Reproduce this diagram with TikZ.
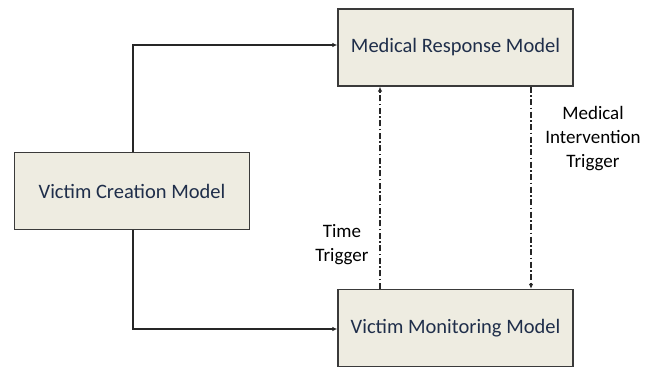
\documentclass[tikz,border=0pt]{standalone}
\usepackage{fontspec}
\setmainfont{Carlito}
\usetikzlibrary{arrows.meta}
\definecolor{boxfill}{HTML}{EEECE1}
\definecolor{boxtext}{HTML}{1F2E4A}
\definecolor{boxline}{HTML}{3A3A3A}
\tikzset{
  model/.style={draw=boxline, line width=1.3pt, fill=boxfill, minimum width=235pt,
    minimum height=77pt, inner sep=0pt, text=boxtext, font=\fontsize{20.5}{22}\selectfont},
  flow/.style={line width=1.1pt, draw=black!85, -{Latex[length=5pt,width=4.5pt]}},
  trig/.style={line width=1.1pt, draw=black!85, dash pattern=on 6pt off 2.5pt on 1.5pt off 2.5pt,
    -{Latex[length=5pt,width=4.5pt]}},
  lbl/.style={align=center, font=\fontsize{19}{24}\selectfont, text=black}
}
\begin{document}
\begin{tikzpicture}[x=1pt,y=-1pt]
\useasboundingbox (0,0) rectangle (661,368);
\node[model] (resp) at (455.5,47.5) {Medical Response Model};
\node[model] (crea) at (132,191) {Victim Creation Model};
\node[model] (moni) at (455.5,328) {Victim Monitoring Model};
\coordinate (ct) at (133,153);
\coordinate (cb) at (133,229);
\draw[flow] (crea.north -| ct) |- (resp.west |- 0,45);
\draw[flow] (crea.south -| cb) |- (moni.west |- 0,329);
\draw[trig] (moni.north -| 380,0) -- (resp.south -| 380,0);
\draw[trig] (resp.south -| 531,0) -- (moni.north -| 531,0);
\node[lbl] (mit) at (593,139) {Medical\\Intervention\\Trigger};
\node[lbl] (tt) at (342,245) {Time\\Trigger};
\end{tikzpicture}
\end{document}
